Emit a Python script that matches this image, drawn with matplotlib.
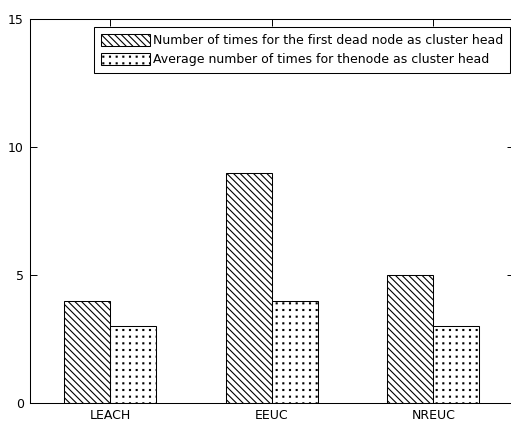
import matplotlib
matplotlib.use('Agg')
import matplotlib.pyplot as plt
import matplotlib.hatch as mhatch
from matplotlib.path import Path
import numpy as np

# values
protocols = ['LEACH', 'EEUC', 'NREUC']
first_dead_times = [4, 9, 5]
average_times = [3, 4, 3]
labels = ['Number of times for the first dead node as cluster head',
          'Average number of times for thenode as cluster head']
yticks = [0, 5, 10, 15]


# MATLAB-like hatches: diagonal lines ~6.7px apart, dots on a square grid
class DiagLines(mhatch.SouthEastHatch):
    def __init__(self, hatch, density):
        super().__init__(hatch, density)
        # must be even so the tile repeats without seams
        self.num_lines = int(hatch.count('\\') * 10)
        self.num_vertices = (self.num_lines + 1) * 2 if self.num_lines else 0


class GridDots(mhatch.HatchPatternBase):
    def __init__(self, hatch, density):
        self.n = hatch.count('.') * 5
        self.num_vertices = self.n * self.n * 5

    def set_vertices_and_codes(self, vertices, codes):
        n = self.n
        s = 0.005
        c = (np.arange(n) + 0.5) / n
        cx, cy = np.meshgrid(c, c)
        centers = np.stack([cx.ravel(), cy.ravel()], axis=1)
        sq = np.array([[-s, -s], [s, -s], [s, s], [-s, s], [-s, -s]])
        vertices[:] = (centers[:, None, :] + sq[None, :, :]).reshape(-1, 2)
        codes[:] = np.tile([Path.MOVETO, Path.LINETO, Path.LINETO,
                            Path.LINETO, Path.CLOSEPOLY], n * n)


mhatch._hatch_types = [DiagLines if t is mhatch.SouthEastHatch else
                       GridDots if t is mhatch.SmallFilledCircles else t
                       for t in mhatch._hatch_types]

plt.rcParams['font.family'] = ['DejaVu Sans']
plt.rcParams['hatch.linewidth'] = 0.8
plt.rcParams['hatch.color'] = 'black'

W, H = 511, 421
fig = plt.figure(figsize=(W / 100, H / 100), dpi=100)
# axes runs past the right edge of the image, as in the original crop
ax = fig.add_axes([29.5 / W, (H - 403) / H, 484.5 / W, 384 / H])

x = np.arange(1, len(protocols) + 1)
w = 0.285
ax.bar(x - w / 2, first_dead_times, w, color='white', edgecolor='black',
       linewidth=0.75, hatch='\\\\\\', label=labels[0])
ax.bar(x + w / 2, average_times, w, color='white', edgecolor='black',
       linewidth=0.75, hatch='...', label=labels[1])

ax.set_xlim(0.5, 3.5)
ax.set_ylim(0, 15)
ax.set_xticks(x)
ax.set_xticklabels(protocols)
ax.set_yticks(yticks)
ax.tick_params(direction='in', length=5, width=0.7, labelsize=9,
               top=True, right=True, pad=4)
for s in ax.spines.values():
    s.set_linewidth(0.75)

leg = ax.legend(loc='upper right', bbox_to_anchor=(0.9917, 0.979),
                borderaxespad=0, fontsize=9, fancybox=False, frameon=True,
                edgecolor='black', framealpha=1, handlelength=3.9,
                handleheight=1.1, handletextpad=0.25, borderpad=0.55,
                labelspacing=0.45)
leg.get_frame().set_linewidth(0.75)

fig.savefig('out.png', dpi=100)
